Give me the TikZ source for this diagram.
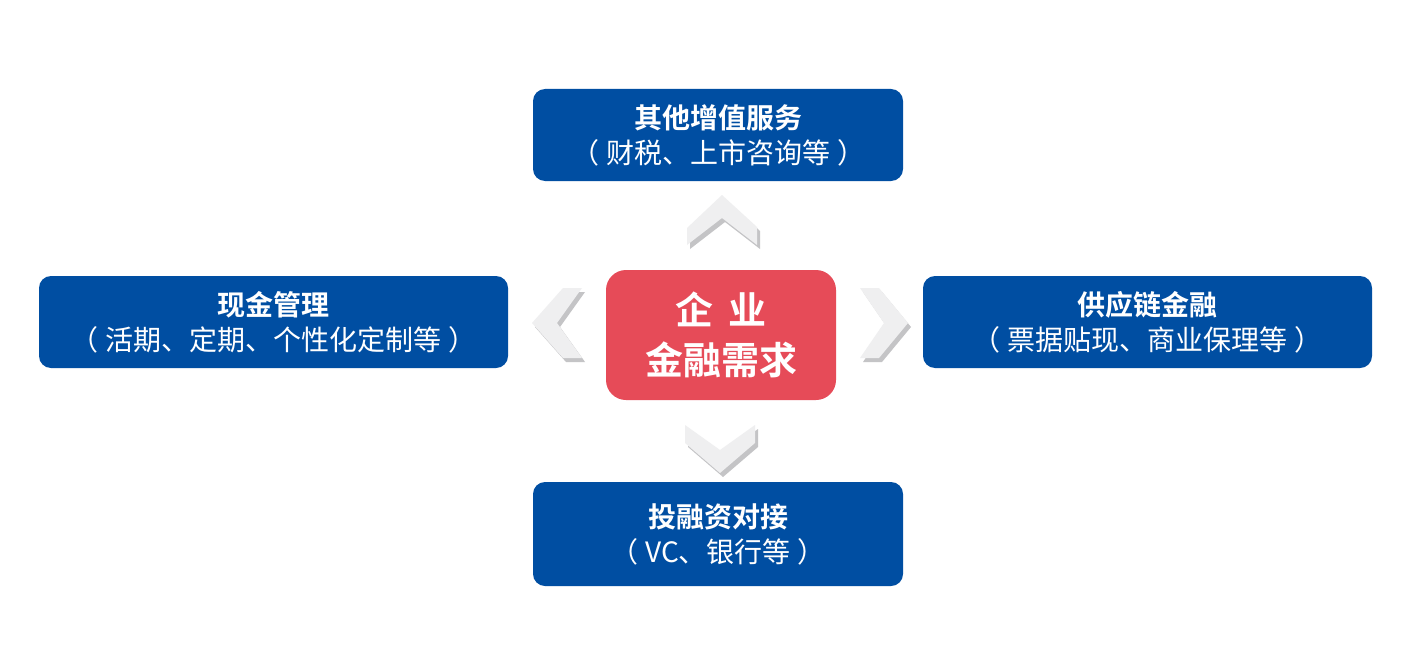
\documentclass[tikz,border=0pt]{standalone}
\usepackage{fontspec}
\newfontfamily\cjk{Noto Sans CJK SC}
\newfontfamily\cjkb{Noto Sans CJK SC Bold}
\definecolor{boxblue}{HTML}{004EA2}
\definecolor{corered}{HTML}{E64B58}
\definecolor{chevfill}{HTML}{EFEFF0}
\definecolor{chevshadow}{HTML}{C4C4C6}
\tikzset{
  bluebox/.style={fill=boxblue, rounded corners=12pt, text=white, align=center, inner sep=0pt,
    font=\cjk\fontsize{28}{35}\selectfont},
  corebox/.style={fill=corered, rounded corners=20pt, text=white, align=center, inner sep=0pt,
    minimum width=230pt, minimum height=130pt, font=\cjkb\fontsize{38}{50}\selectfont},
  chev/.style={fill=chevfill},
  chevsh/.style={fill=chevshadow},
}
\newcommand{\ttl}[1]{{\cjkb\fontsize{28}{35}\selectfont #1}}
\newcommand{\lp}{（\hspace{0.25em}}
\newcommand{\rp}{\hspace{0.25em}）}
\begin{document}
\begin{tikzpicture}[x=1pt,y=-1pt]
\useasboundingbox (0,0) rectangle (1420,666);
\fill[white] (0,0) rectangle (1420,666);

% boxes
\node[bluebox, minimum width=370pt, minimum height=92pt] (top) at (718,135)
  {\ttl{其他增值服务}\\\lp 财税、上市咨询等\rp};
\node[bluebox, minimum width=469pt, minimum height=92pt] (left) at (273.5,322)
  {\ttl{现金管理}\\\lp 活期、定期、个性化定制等\rp};
\node[bluebox, minimum width=449pt, minimum height=92pt] (right) at (1147.5,322)
  {\ttl{供应链金融}\\\lp 票据贴现、商业保理等\rp};
\node[bluebox, minimum width=370pt, minimum height=104pt] (bottom) at (718,534)
  {\ttl{投融资对接}\\\lp VC、银行等\rp};

\node[corebox] (core) at (721,335) {企\hspace{0.4em}业\\金融需求};

% chevrons: shadows
\begin{scope}[shift={(3,4)}]
\fill[chevsh] (722,195) -- (757,227) -- (757,245) -- (722,218) -- (687,245) -- (687,228) -- cycle;
\fill[chevsh] (532,323) -- (563,288) -- (582,288) -- (557,323) -- (582,358) -- (563,358) -- cycle;
\fill[chevsh] (908,323) -- (879,288) -- (860,288) -- (884,323) -- (860,358) -- (879,358) -- cycle;
\fill[chevsh] (685,425) -- (720,450) -- (755,425) -- (755,443) -- (720,473) -- (685,443) -- cycle;
\end{scope}
% chevrons
\fill[chev] (722,195) -- (757,227) -- (757,245) -- (722,218) -- (687,245) -- (687,228) -- cycle;
\fill[chev] (532,323) -- (563,288) -- (582,288) -- (557,323) -- (582,358) -- (563,358) -- cycle;
\fill[chev] (908,323) -- (879,288) -- (860,288) -- (884,323) -- (860,358) -- (879,358) -- cycle;
\fill[chev] (685,425) -- (720,450) -- (755,425) -- (755,443) -- (720,473) -- (685,443) -- cycle;
\end{tikzpicture}
\end{document}
